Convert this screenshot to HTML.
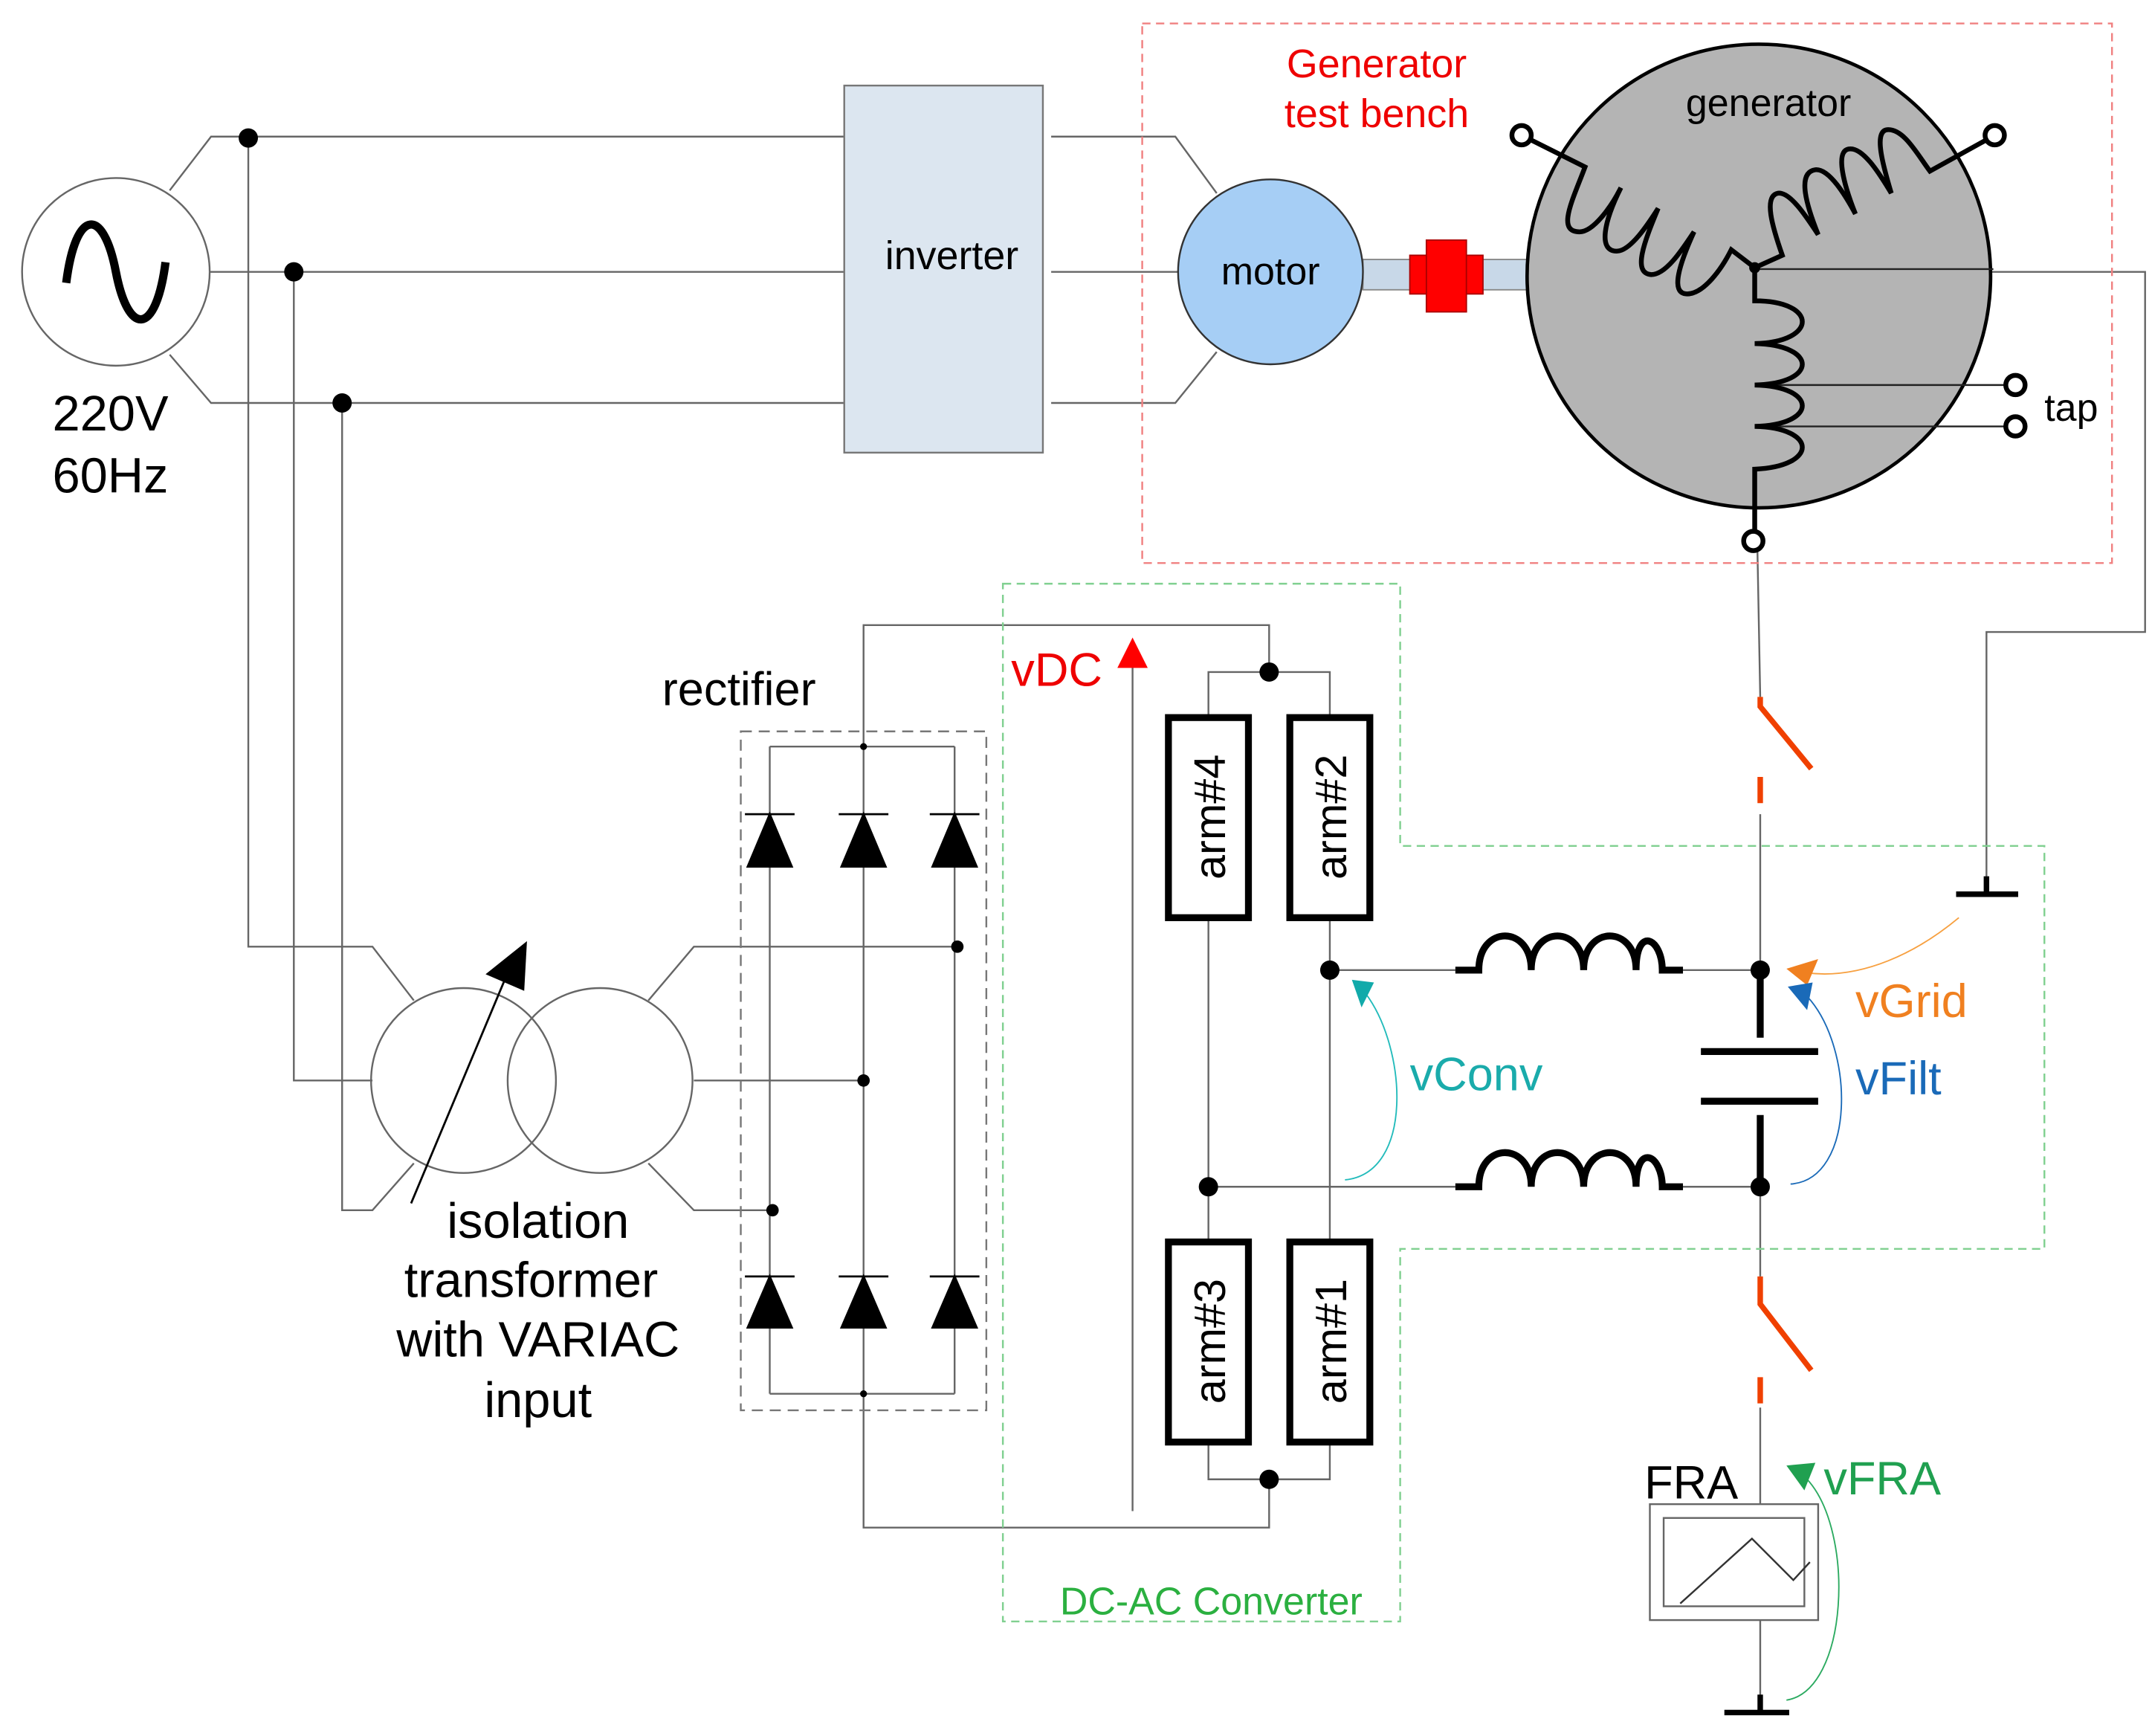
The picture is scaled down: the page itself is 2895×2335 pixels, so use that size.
<!DOCTYPE html>
<html><head><meta charset="utf-8"><style>html,body{margin:0;padding:0;background:#fff}svg{display:block}text{font-family:"Liberation Sans",sans-serif}</style></head><body>
<svg width="2895" height="2335" viewBox="0 0 1560 1258" preserveAspectRatio="none" xmlns="http://www.w3.org/2000/svg">
<rect width="1560" height="1258" fill="#fff"/>
<g fill="none" stroke="#666" stroke-width="1.3">
<polyline points="123,138 153,99 612,99"/>
<line x1="152" y1="197" x2="612" y2="197"/>
<polyline points="123,257 153,292 612,292"/>
<polyline points="180,100 180,686 270,686 300,725"/>
<polyline points="213,197 213,783 270,783"/>
<polyline points="248,292 248,877 270,877 300,843"/>
<polyline points="762,99 852,99 882,140"/>
<line x1="762" y1="197" x2="855" y2="197"/>
<polyline points="762,292 852,292 882,255"/>
<polyline points="470,725 503,686 694,686"/>
<line x1="503" y1="783" x2="626" y2="783"/>
<polyline points="470,843 503,877 560,877"/>
<polyline points="558,541 692,541"/><polyline points="558,1010 692,1010"/>
<line x1="558" y1="541" x2="558" y2="1010"/><line x1="626" y1="541" x2="626" y2="1010"/><line x1="692" y1="541" x2="692" y2="1010"/>
<polyline points="626,541 626,453 920,453 920,487"/>
<polyline points="626,1010 626,1107 920,1107 920,1072"/>
<polyline points="876,520 876,487 964,487 964,520"/>
<polyline points="876,1045 876,1072 964,1072 964,1045"/>
<line x1="876" y1="665" x2="876" y2="900"/>
<line x1="964" y1="665" x2="964" y2="900"/>
<line x1="964" y1="703" x2="1055" y2="703"/>
<line x1="876" y1="860" x2="1055" y2="860"/>
<line x1="1220" y1="703" x2="1276" y2="703"/>
<line x1="1220" y1="860" x2="1276" y2="860"/>
<polyline points="1440,197 1555,197 1555,458 1440,458 1440,645"/>
<line x1="1274" y1="400" x2="1276" y2="505"/>
<line x1="1276" y1="590" x2="1276" y2="703"/>
<line x1="1276" y1="860" x2="1276" y2="925"/>
<line x1="1276" y1="1020" x2="1276" y2="1090"/>
<line x1="1276" y1="1174" x2="1276" y2="1238"/>
</g>
<circle cx="84" cy="197" r="68" fill="#fff" stroke="#666" stroke-width="1.3"/>
<path d="M48,205 C55,150 75,150 84,197 C93,244 113,244 120,190" fill="none" stroke="#000" stroke-width="6"/>
<text x="38" y="312" font-size="36">220V</text>
<text x="38" y="357" font-size="36">60Hz</text>
<g fill="#000"><circle cx="180" cy="100" r="7"/><circle cx="213" cy="197" r="7"/><circle cx="248" cy="292" r="7"/></g>
<rect x="612" y="62" width="144" height="266" fill="#dce6f0" stroke="#777" stroke-width="1.3"/>
<text x="690" y="195" font-size="29" text-anchor="middle">inverter</text>
<rect x="828" y="17" width="703" height="391" fill="none" stroke="#f08080" stroke-width="1.3" stroke-dasharray="6,4"/>
<text x="998" y="56" font-size="29" fill="#e00" text-anchor="middle">Generator</text>
<text x="998" y="92" font-size="29" fill="#e00" text-anchor="middle">test bench</text>
<rect x="988" y="188" width="124" height="22" fill="#c8d8e8" stroke="#888"/>
<circle cx="921" cy="197" r="67" fill="#a6cef5" stroke="#333" stroke-width="1.3"/>
<text x="921" y="206" font-size="28" text-anchor="middle">motor</text>
<rect x="1022" y="185" width="53" height="28" fill="#f00" stroke="#a00"/>
<rect x="1034" y="174" width="29" height="52" fill="#f00" stroke="#a00"/>
<circle cx="1275" cy="200" r="168" fill="#b4b4b4" stroke="#000" stroke-width="2.5"/>
<text x="1282" y="84" font-size="28" text-anchor="middle">generator</text>
<g fill="none" stroke="#222" stroke-width="1.3">
<line x1="1272" y1="195" x2="1445" y2="195"/>
<line x1="1285" y1="279" x2="1459" y2="279"/>
<line x1="1285" y1="309" x2="1459" y2="309"/>
</g>
<g fill="none" stroke="#000" stroke-width="3.5" stroke-linejoin="miter">
<path d="M1103,98 L1149,121 C1140,145 1128,168 1145,168 C1155,168 1168,150 1175,136 C1163,160 1158,182 1172,182 C1182,182 1195,162 1202,151 C1192,175 1183,198 1197,199 C1208,199 1220,180 1228,168 C1218,190 1210,213 1223,213 C1235,213 1248,195 1255,181 L1272,194"/>
<path d="M1272,194 L1292,185 C1285,165 1278,142 1289,140 C1298,139 1310,158 1318,170 C1310,150 1302,125 1316,123 C1326,122 1338,142 1345,155 C1337,135 1330,110 1340,108 C1350,106 1362,125 1371,140 C1365,120 1358,95 1368,94 C1380,93 1390,112 1399,124 L1446,98"/>
<path d="M1272,194 L1272,218 C1318,218 1318,248 1272,249 C1318,250 1318,278 1272,279 C1318,280 1318,308 1272,309 C1318,310 1318,338 1272,340 L1272,386"/>
</g>
<circle cx="1272" cy="194" r="4" fill="#000"/>
<g fill="#fff" stroke="#000" stroke-width="3.5">
<circle cx="1103" cy="98" r="7"/><circle cx="1446" cy="98" r="7"/><circle cx="1461" cy="279" r="7"/><circle cx="1461" cy="309" r="7"/><circle cx="1271" cy="392" r="7"/>
</g>
<text x="1482" y="305" font-size="28">tap</text>
<g stroke="#f04000" stroke-width="4" fill="none">
<polyline points="1276,505 1276,512 1313,557"/>
<line x1="1276" y1="563" x2="1276" y2="582"/>
<polyline points="1276,925 1276,945 1313,993"/>
<line x1="1276" y1="998" x2="1276" y2="1017"/>
</g>
<g stroke="#000" stroke-width="4"><line x1="1418" y1="648" x2="1463" y2="648"/><line x1="1440" y1="635" x2="1440" y2="648"/>
<line x1="1250" y1="1241" x2="1297" y2="1241"/><line x1="1276" y1="1228" x2="1276" y2="1241"/></g>
<g stroke="#000" stroke-width="5"><line x1="1276" y1="703" x2="1276" y2="752"/><line x1="1276" y1="808" x2="1276" y2="860"/>
<line x1="1233" y1="762" x2="1318" y2="762"/><line x1="1233" y1="798" x2="1318" y2="798"/></g>
<g fill="none" stroke="#000" stroke-width="5">
<path d="M1055,703 L1072,703 C1072,670 1110,670 1110,703 C1110,670 1148,670 1148,703 C1148,670 1186,670 1186,703 C1186,670 1205,680 1205,703 L1220,703"/>
<path d="M1055,860 L1072,860 C1072,827 1110,827 1110,860 C1110,827 1148,827 1148,860 C1148,827 1186,827 1186,860 C1186,827 1205,837 1205,860 L1220,860"/>
</g>
<g fill="#000"><circle cx="1276" cy="703" r="7"/><circle cx="1276" cy="860" r="7"/><circle cx="964" cy="703" r="7"/><circle cx="876" cy="860" r="7"/><circle cx="920" cy="487" r="7"/><circle cx="920" cy="1072" r="7"/>
<circle cx="694" cy="686" r="4.5"/><circle cx="626" cy="783" r="4.5"/><circle cx="560" cy="877" r="4.5"/><circle cx="626" cy="541" r="2.5"/><circle cx="626" cy="1010" r="2.5"/></g>
<polygon points="727,423 1015,423 1015,613 1482,613 1482,905 1015,905 1015,1175 727,1175" fill="none" stroke="#80d090" stroke-width="1.3" stroke-dasharray="6,4"/>
<text x="878" y="1170" font-size="28" fill="#2bb040" text-anchor="middle">DC-AC Converter</text>
<g fill="#fff" stroke="#000" stroke-width="5">
<rect x="847" y="520" width="58" height="145"/><rect x="935" y="520" width="58" height="145"/>
<rect x="847" y="900" width="58" height="145"/><rect x="935" y="900" width="58" height="145"/></g>
<g font-size="32">
<text transform="translate(888,592) rotate(-90)" text-anchor="middle">arm#4</text>
<text transform="translate(976,592) rotate(-90)" text-anchor="middle">arm#2</text>
<text transform="translate(888,972) rotate(-90)" text-anchor="middle">arm#3</text>
<text transform="translate(976,972) rotate(-90)" text-anchor="middle">arm#1</text></g>
<line x1="821" y1="1095" x2="821" y2="478" stroke="#666" stroke-width="1.3"/>
<polygon points="810,484 832,484 821,462" fill="#f00"/>
<text x="733" y="497" font-size="34" fill="#e00">vDC</text>
<rect x="537" y="530" width="178" height="492" fill="none" stroke="#777" stroke-width="1.3" stroke-dasharray="8,5"/>
<text x="480" y="511" font-size="34">rectifier</text>
<g fill="#000" stroke="#000" stroke-width="1.5">
<polygon points="542,628 574,628 558,590"/><polygon points="610,628 642,628 626,590"/><polygon points="676,628 708,628 692,590"/>
<polygon points="542,962 574,962 558,925"/><polygon points="610,962 642,962 626,925"/><polygon points="676,962 708,962 692,925"/>
<line x1="540" y1="590" x2="576" y2="590"/><line x1="608" y1="590" x2="644" y2="590"/><line x1="674" y1="590" x2="710" y2="590"/>
<line x1="540" y1="925" x2="576" y2="925"/><line x1="608" y1="925" x2="644" y2="925"/><line x1="674" y1="925" x2="710" y2="925"/></g>
<circle cx="336" cy="783" r="67" fill="none" stroke="#666" stroke-width="1.3"/>
<circle cx="435" cy="783" r="67" fill="none" stroke="#666" stroke-width="1.3"/>
<line x1="298" y1="872" x2="368" y2="705" stroke="#000" stroke-width="1.5"/>
<polygon points="382,682 380,718 352,706" fill="#000"/>
<g font-size="36" text-anchor="middle"><text x="390" y="897">isolation</text><text x="385" y="940">transformer</text><text x="390" y="983">with VARIAC</text><text x="390" y="1027">input</text></g>
<path d="M975,855 C1025,850 1020,760 990,720" fill="none" stroke="#2bb" stroke-width="1"/>
<polygon points="980,710 996,712 987,730" fill="#1aa"/>
<text x="1022" y="790" font-size="34" fill="#1aabab">vConv</text>
<path d="M1420,665 C1390,690 1350,710 1310,705" fill="none" stroke="#f7a040" stroke-width="1"/>
<polygon points="1295,702 1318,695 1310,714" fill="#f08020"/>
<text x="1345" y="737" font-size="34" fill="#f08020">vGrid</text>
<path d="M1298,858 C1345,855 1345,760 1310,722" fill="none" stroke="#1a6ab8" stroke-width="1"/>
<polygon points="1296,715 1314,712 1310,732" fill="#1a6ab8"/>
<text x="1345" y="793" font-size="34" fill="#1a6ab8">vFilt</text>
<path d="M1295,1232 C1340,1225 1345,1110 1310,1072" fill="none" stroke="#2baa60" stroke-width="1"/>
<polygon points="1295,1062 1316,1060 1308,1080" fill="#20a050"/>
<text x="1322" y="1083" font-size="34" fill="#20a050">vFRA</text>
<text x="1192" y="1086" font-size="34">FRA</text>
<rect x="1196" y="1090" width="122" height="84" fill="#fff" stroke="#666" stroke-width="1.3"/>
<rect x="1206" y="1100" width="102" height="64" fill="none" stroke="#666" stroke-width="1.3"/>
<polyline points="1218,1162 1270,1115 1300,1145 1312,1132" fill="none" stroke="#333" stroke-width="1.3"/>
</svg>
</body></html>
